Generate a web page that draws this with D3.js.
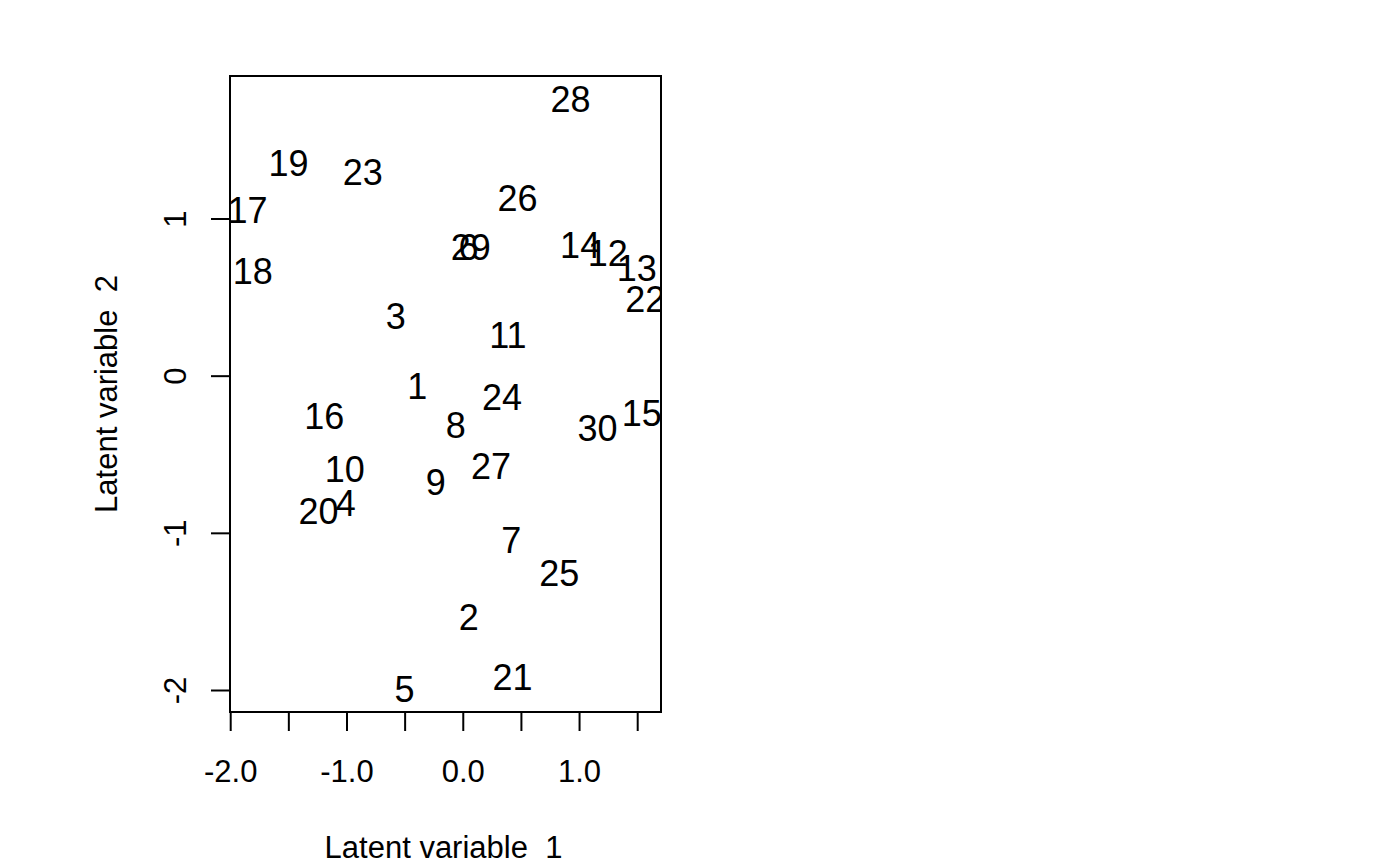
<!DOCTYPE html>
<html>
<head>
<meta charset="utf-8">
<script src="https://cdn.jsdelivr.net/npm/d3@7"></script>
<style>
  html, body { margin: 0; padding: 0; background: #fff; }
  svg { display: block; }
  text { font-family: "Liberation Sans", Arial, sans-serif; fill: #000; white-space: pre; }
</style>
</head>
<body>
<svg id="chart" width="1400" height="866"></svg>
<script>
// ---- data ----
const pointLabels = ["1","2","3","4","5","6","7","8","9","10",
                     "11","12","13","14","15","16","17","18","19","20",
                     "21","22","23","24","25","26","27","28","29","30"];
const latent1 = [-0.395, 0.047, -0.581, -1.011, -0.505, 0.046, 0.413, -0.064, -0.237, -1.019,
                  0.384, 1.242, 1.491, 1.005, 1.534, -1.196, -1.856, -1.811, -1.502, -1.244,
                  0.424, 1.565, -0.864, 0.334, 0.826, 0.467, 0.238, 0.922, 0.064, 1.154];
const latent2 = [-0.062, -1.532, 0.379, -0.810, -1.992, 0.822, -1.043, -0.311, -0.675, -0.594,
                  0.262, 0.782, 0.686, 0.832, -0.232, -0.254, 1.055, 0.668, 1.358, -0.857,
                 -1.912, 0.492, 1.299, -0.134, -1.252, 1.131, -0.572, 1.761, 0.822, -0.332];
const xTickValues = [-2.0, -1.5, -1.0, -0.5, 0.0, 0.5, 1.0, 1.5];
const xTickLabels = ["-2.0", "", "-1.0", "", "0.0", "", "1.0", ""];
const yTickValues = [1, 0, -1, -2];
const yTickLabels = ["1", "0", "-1", "-2"];
const xTitle = "Latent variable  1";
const yTitle = "Latent variable  2";

// ---- layout ----
const plot = { left: 230, right: 661, top: 76, bottom: 712 };
const xScale = d3.scaleLinear().domain([-2.0, 1.5]).range([230.7, 637.7]);
xScale.domain([xScale.invert(plot.left), xScale.invert(plot.right)]).range([plot.left, plot.right]);
const yScale = d3.scaleLinear().domain([1, -2]).range([219, 690.5]);
yScale.domain([yScale.invert(plot.bottom), yScale.invert(plot.top)]).range([plot.bottom, plot.top]);

const svg = d3.select("#chart");
const lw = 2;
const axisFont = "31px";

svg.append("defs").append("clipPath").attr("id", "plotclip")
  .append("rect")
  .attr("x", plot.left).attr("y", plot.top)
  .attr("width", plot.right - plot.left).attr("height", plot.bottom - plot.top);

// points as text labels
svg.append("g").attr("clip-path", "url(#plotclip)")
  .selectAll("text").data(pointLabels).join("text")
  .attr("x", (d, i) => xScale(latent1[i]))
  .attr("y", (d, i) => yScale(latent2[i]))
  .attr("dy", "0.358em")
  .attr("text-anchor", "middle")
  .style("font-size", "36px")
  .text(d => d);

// box
svg.append("rect")
  .attr("x", plot.left).attr("y", plot.top)
  .attr("width", plot.right - plot.left).attr("height", plot.bottom - plot.top)
  .attr("fill", "none").attr("stroke", "#000").attr("stroke-width", lw);

// x axis
const xAxis = d3.axisBottom(xScale)
  .tickValues(xTickValues)
  .tickSize(19)
  .tickPadding(0)
  .offset(0)
  .tickFormat((d, i) => xTickLabels[i]);
const gx = svg.append("g").attr("transform", `translate(0,${plot.bottom})`).call(xAxis);
gx.select(".domain").remove();
gx.selectAll(".tick line").attr("stroke", "#000").attr("stroke-width", lw);
gx.selectAll(".tick text")
  .attr("y", 70).attr("dy", 0)
  .style("font-size", axisFont).style("font-family", "Liberation Sans, Arial, sans-serif")
  .attr("fill", "#000");

// y axis
const yAxis = d3.axisLeft(yScale)
  .tickValues(yTickValues)
  .tickSize(19)
  .tickPadding(0)
  .offset(0)
  .tickFormat((d, i) => yTickLabels[i]);
const gy = svg.append("g").attr("transform", `translate(${plot.left},0)`).call(yAxis);
gy.select(".domain").remove();
gy.selectAll(".tick line").attr("stroke", "#000").attr("stroke-width", lw);
gy.selectAll(".tick text")
  .attr("x", 0).attr("dy", 0)
  .attr("text-anchor", "middle")
  .attr("transform", "translate(-44,0) rotate(-90)")
  .style("font-size", axisFont).style("font-family", "Liberation Sans, Arial, sans-serif")
  .attr("fill", "#000");

// axis titles
svg.append("text")
  .attr("x", (plot.left + plot.right) / 2 - 2)
  .attr("y", 858)
  .attr("text-anchor", "middle")
  .style("font-size", axisFont)
  .text(xTitle);

svg.append("text")
  .attr("transform", `translate(116.5,${(plot.top + plot.bottom) / 2}) rotate(-90)`)
  .attr("text-anchor", "middle")
  .style("font-size", axisFont)
  .text(yTitle);
</script>
</body>
</html>
